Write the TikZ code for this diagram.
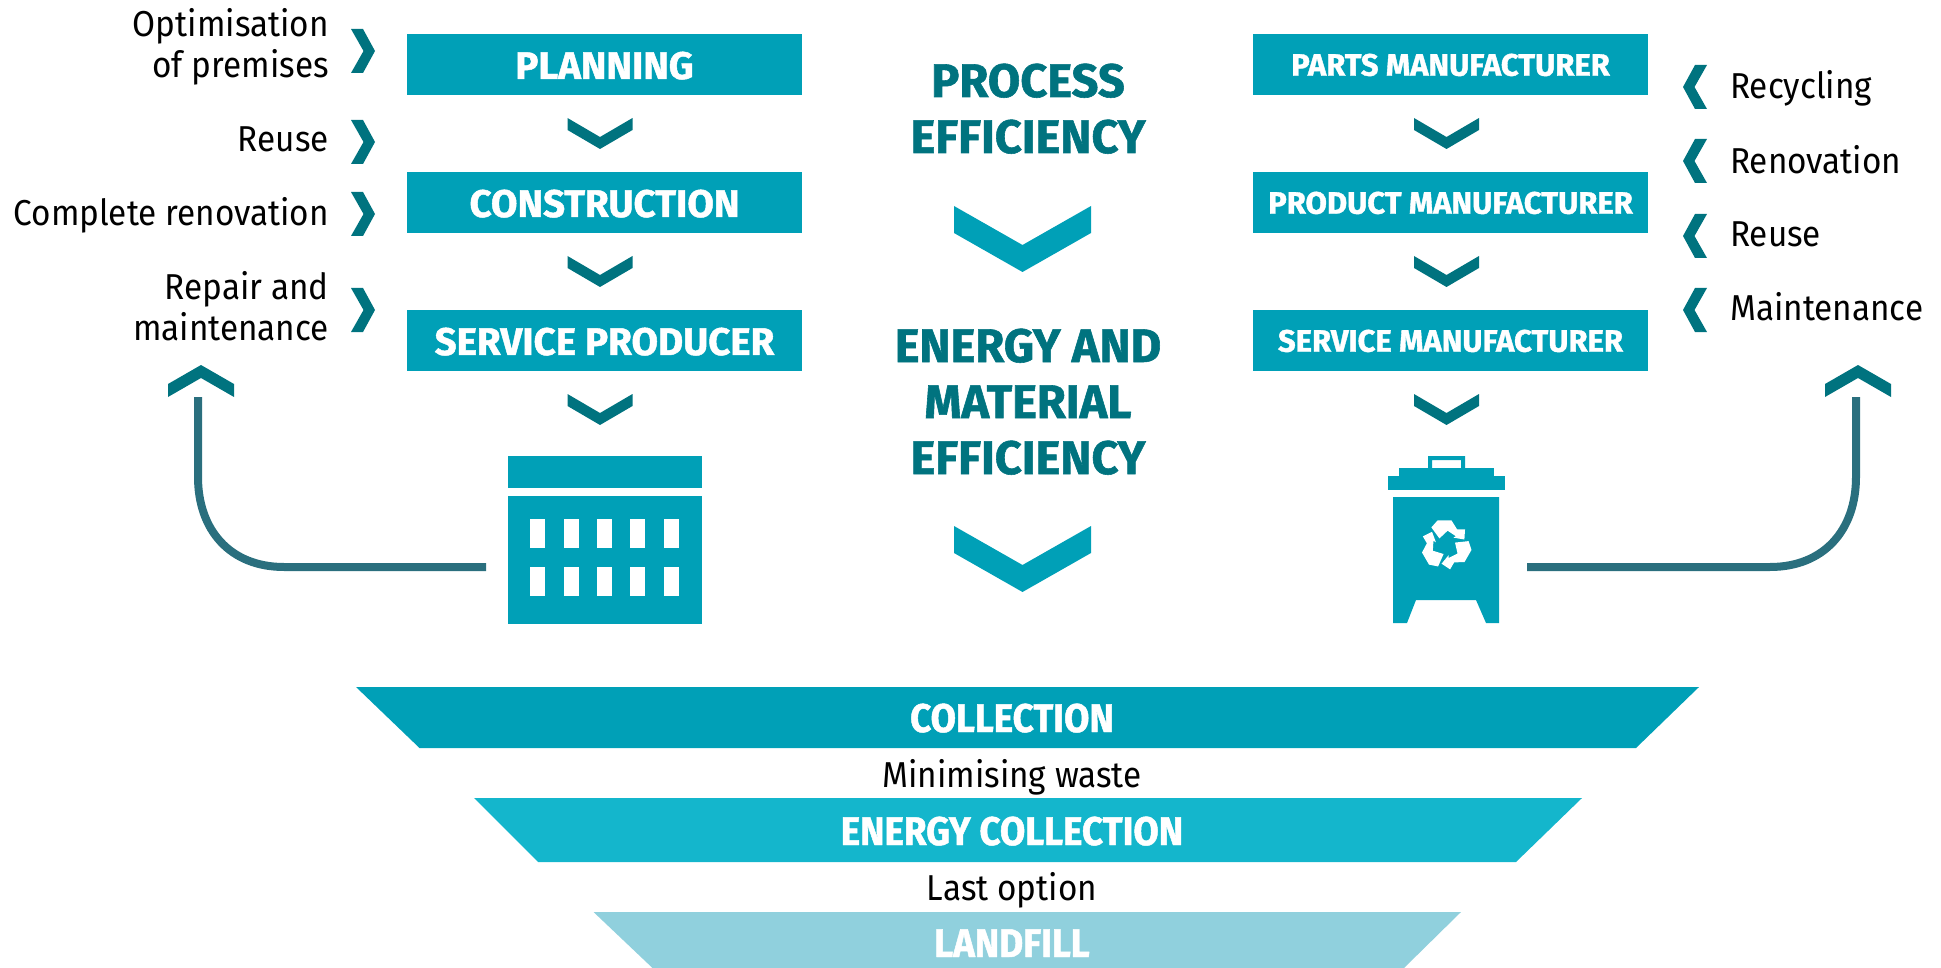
\documentclass[tikz,border=0pt]{standalone}
\usepackage{fontspec}
\usepackage{tikz}
\usetikzlibrary{positioning}
\newfontfamily\labelfont[FakeStretch=.925]{Fira Sans}
\newfontfamily\headfont[FakeStretch=1,FakeBold=1.2]{Fira Sans Bold}
\newfontfamily\wastefont[FakeStretch=.92,FakeBold=1.2]{Fira Sans Bold}
\definecolor{tealbox}{HTML}{00A0B7}
\definecolor{tealmid}{HTML}{14B6CC}
\definecolor{teallight}{HTML}{90D0DD}
\definecolor{tealdark}{HTML}{00737F}
\definecolor{tealline}{HTML}{2A6F7E}
\tikzset{
  procbox/.style={fill=tealbox,text=white,minimum width=395pt,minimum height=61pt,inner sep=0pt,text depth=0pt},
  bigbox/.style={procbox,text height=29pt,font=\headfont\fontsize{38.5}{41}\selectfont},
  smallbox/.style={procbox,text height=22.4pt,font=\headfont\fontsize{31}{41}\selectfont},
  leftlabel/.style={anchor=base east,align=right,inner sep=0pt,font=\labelfont\fontsize{36}{41}\selectfont},
  rightlabel/.style={anchor=base west,inner sep=0pt,font=\labelfont\fontsize{36}{41}\selectfont},
  midlabel/.style={anchor=base,inner sep=0pt,font=\labelfont\fontsize{36}{41}\selectfont},
  wastelabel/.style={anchor=base,text=white,inner sep=0pt,font=\wastefont\fontsize{40}{41}\selectfont},
  efflabel/.style={anchor=base,text=tealdark,align=center,inner sep=0pt,font=\headfont\fontsize{47}{56}\selectfont},
  loopline/.style={draw=tealline,line width=8pt}
}
\begin{document}
\begin{tikzpicture}[x=1pt,y=-1pt]
  \useasboundingbox (0,0) rectangle (1941,968);
  % left column
  \node[bigbox](planning)at(604.5,64.5){PLANNING};
  \node[bigbox](construction)at(604.5,202.5){CONSTRUCTION};
  \node[bigbox](producer)at(604.5,340.5){SERVICE PRODUCER};
  % right column
  \node[smallbox](parts)at(1450.5,64.5){PARTS MANUFACTURER};
  \node[smallbox](product)at(1450.5,202.5){PRODUCT MANUFACTURER};
  \node[smallbox](manufacturer)at(1450.5,340.5){SERVICE MANUFACTURER};
  % small chevrons
  \foreach \x in {600,1446.5} \foreach \y in {118,256,394}
    \fill[tealdark,shift={(\x,\y)}](-32.5,0)--(0,19)--(32.5,0)--(32.5,12)--(0,31)--(-32.5,12)--cycle;
  % big chevrons
  \foreach \y in {206,526}
    \fill[tealbox,shift={(1022.5,\y)}](-68.5,0)--(0,39)--(68.5,0)--(68.5,27)--(0,66)--(-68.5,27)--cycle;
  % side chevrons
  \foreach \y in {29,120,192,288}
    \fill[tealdark,shift={(351,\y)}](0,0)--(12,0)--(24,22)--(12,44)--(0,44)--(12.5,22)--cycle;
  \foreach \y in {65,139,214,288}
    \fill[tealdark,shift={(1707,\y)},xscale=-1](0,0)--(12,0)--(24,22)--(12,44)--(0,44)--(12.5,22)--cycle;
  % up chevrons
  \foreach \x in {201,1858}
    \fill[tealdark,shift={(\x,365)}](0,0)--(33,19)--(33,32)--(0,13)--(-33,32)--(-33,19)--cycle;
  % labels
  \node[leftlabel](premises)at(329,78){Optimisation\\of premises};
  \node[leftlabel](reuseleft)at(329,152){Reuse};
  \node[leftlabel](complete)at(329,226){Complete renovation};
  \node[leftlabel](repair)at(329,341){Repair and\\maintenance};
  \node[rightlabel](recycling)at(1730,99){Recycling};
  \node[rightlabel](renovation)at(1730,174){Renovation};
  \node[rightlabel](reuseright)at(1730,247){Reuse};
  \node[rightlabel](maintenance)at(1730,321){Maintenance};
  \node[efflabel](process)at(1028,153){PROCESS\\EFFICIENCY};
  \node[efflabel](energy)at(1028,474){ENERGY AND\\MATERIAL\\EFFICIENCY};
  % building
  \fill[tealbox](508,456)rectangle(701.5,488);
  \fill[tealbox](508,496)rectangle(701.5,624);
  \foreach \x in {530,564,597,630,664}{
    \fill[white](\x,519)rectangle(\x+15,548);
    \fill[white](\x,567)rectangle(\x+15,596);
  }
  % bin
  \fill[tealbox](1387.5,476)rectangle(1505,490);
  \fill[tealbox](1399,468)rectangle(1494,476);
  \fill[tealbox,even odd rule](1428,456)rectangle(1465,468)(1432,460)rectangle(1461,468);
  \fill[tealbox](1393,497)--(1499,497)--(1499,623)--(1486,623)--(1476,600)--(1416,600)--(1407,623)--(1393,623)--cycle;
  \foreach \a in {0,120,240}
    \fill[white,shift={(1446,545)},rotate=\a,scale=1.1](-13.3,-16)--(-7.7,-22.3)--(5,-22.3)--(10,-14.3)--(17.3,-14.3)--(16.7,-5)--(6.7,-6.7)--(9,-8)--(1.5,-13)--(-6,-6)--cycle;
  % loop lines
  \coordinate(buildingend)at(486,567);
  \coordinate(upleft)at(198,397);
  \coordinate(binend)at(1527,567);
  \coordinate(upright)at(1856,397);
  \draw[loopline](buildingend)--(284,567)..controls(230,567)and(198,530)..(198,477)--(upleft);
  \draw[loopline](binend)--(1770,567)..controls(1824,567)and(1856,530)..(1856,477)--(upright);
  % waste hierarchy
  \fill[tealbox](356,687)--(1699,687)--(1636,748)--(419.5,748)--cycle;
  \fill[tealmid](474,798)--(1582,798)--(1516,862)--(538,862)--cycle;
  \fill[teallight](593.5,912)--(1461,912)--(1404,968)--(652.5,968)--cycle;
  \node[wastelabel](collection)at(1012,732){COLLECTION};
  \node[midlabel](minimising)at(1012,787){Minimising waste};
  \node[wastelabel](energycoll)at(1012,845){ENERGY COLLECTION};
  \node[midlabel](lastoption)at(1012,900){Last option};
  \node[wastelabel](landfill)at(1012,957){LANDFILL};
\end{tikzpicture}
\end{document}
